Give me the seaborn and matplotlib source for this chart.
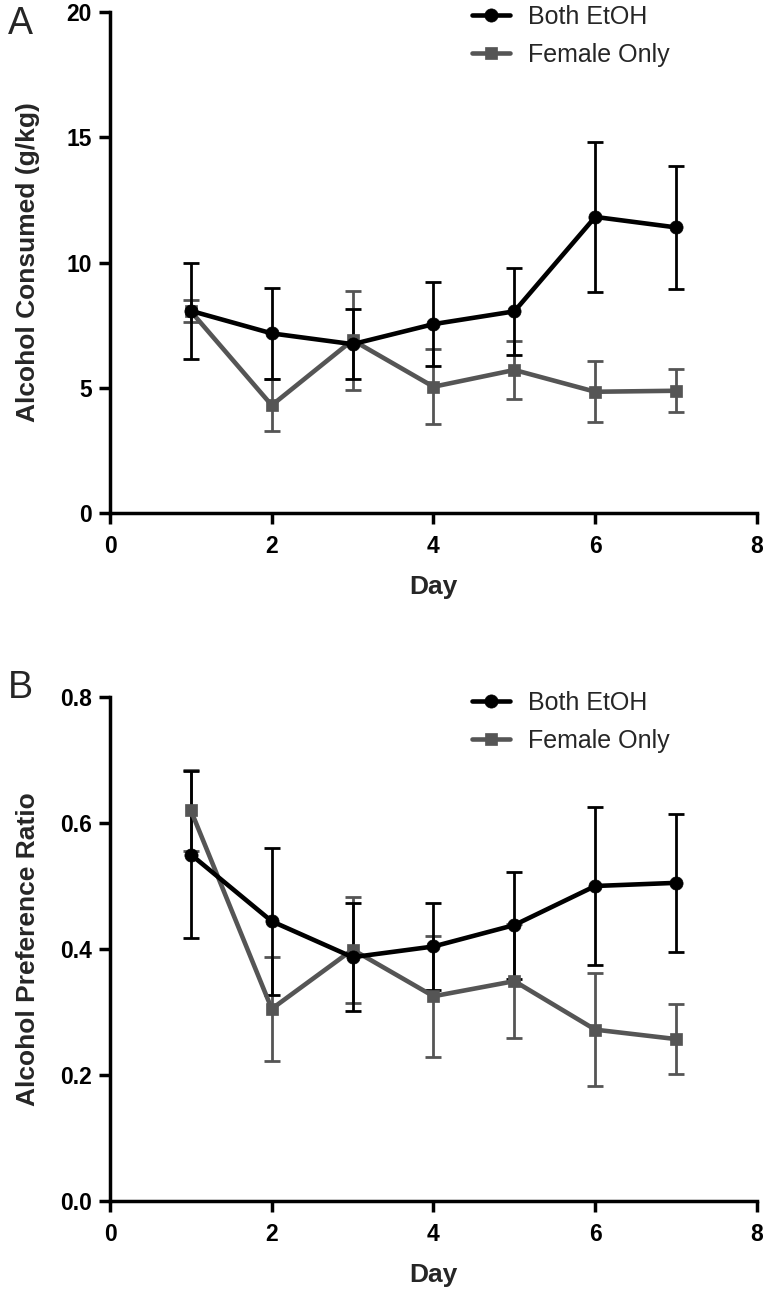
import matplotlib
matplotlib.use("Agg")
import matplotlib.pyplot as plt
import seaborn as sns
import pandas as pd
import numpy as np

# ---- data ----
days = [1, 2, 3, 4, 5, 6, 7]
series_names = ["Both EtOH", "Female Only"]

a_both_mean = [8.07, 7.17, 6.74, 7.54, 8.05, 11.82, 11.40]
a_both_sem = [1.93, 1.82, 1.41, 1.69, 1.74, 2.98, 2.47]
a_fem_mean = [8.05, 4.30, 6.90, 5.04, 5.71, 4.84, 4.88]
a_fem_sem = [0.44, 1.03, 1.97, 1.50, 1.16, 1.22, 0.86]

b_both_mean = [0.550, 0.444, 0.387, 0.404, 0.438, 0.500, 0.505]
b_both_sem = [0.133, 0.117, 0.086, 0.069, 0.085, 0.126, 0.109]
b_fem_mean = [0.620, 0.305, 0.399, 0.325, 0.349, 0.272, 0.257]
b_fem_sem = [0.064, 0.083, 0.084, 0.096, 0.090, 0.090, 0.056]

a_yticks = [0, 5, 10, 15, 20]
a_yticklabels = ["0", "5", "10", "15", "20"]
b_yticks = [0.0, 0.2, 0.4, 0.6, 0.8]
b_yticklabels = ["0.0", "0.2", "0.4", "0.6", "0.8"]
xticks = [0, 2, 4, 6, 8]
xticklabels = ["0", "2", "4", "6", "8"]

# ---- style ----
sns.set_style("ticks")
plt.rcParams["font.family"] = ["Liberation Sans", "DejaVu Sans"]

W, H = 764, 1290
DPI = 100
fig = plt.figure(figsize=(W / DPI, H / DPI), dpi=DPI)

def px_axes(left, top, right, bottom):
    return fig.add_axes([left / W, 1 - bottom / H, (right - left) / W, (bottom - top) / H])

axA = px_axes(110, 12, 757, 513)
axB = px_axes(110, 697, 757, 1201)

colors = {"Both EtOH": "#000000", "Female Only": "#555555"}
markers = {"Both EtOH": "o", "Female Only": "s"}

def draw(ax, means, sems, ylim, yticks, yticklabels, ylabel, legend_top, ax_h):
    handles = {}
    for name in ["Female Only", "Both EtOH"]:
        m = means[name]
        s = sems[name]
        df = pd.DataFrame({"Day": days, "mean": m, "sem": s})
        c = colors[name]
        ax.errorbar(df["Day"], df["mean"], yerr=df["sem"], fmt="none",
                    ecolor=c, elinewidth=2.0, capsize=6, capthick=2.0, zorder=2)
        sns.lineplot(data=df, x="Day", y="mean", ax=ax, color=c,
                     marker=markers[name],
                     markersize=9.5 if name == "Both EtOH" else 9,
                     markeredgecolor=c, markerfacecolor=c, markeredgewidth=0.5,
                     linewidth=3.3, errorbar=None, label=name, zorder=3,
                     legend=False)
        handles[name] = ax.lines[-1]
    ax.set_xlim(0, 8)
    ax.set_ylim(*ylim)
    ax.set_xticks(xticks)
    ax.set_xticklabels(xticklabels)
    ax.set_yticks(yticks)
    ax.set_yticklabels(yticklabels)
    for sp in ["top", "right"]:
        ax.spines[sp].set_visible(False)
    for sp in ["left", "bottom"]:
        ax.spines[sp].set_linewidth(2.5)
        ax.spines[sp].set_color("black")
    ax.tick_params(axis="both", direction="out", length=8, width=2.5,
                   labelsize=16.5, colors="black")
    ax.tick_params(axis="x", pad=8)
    ax.tick_params(axis="y", pad=5)
    for lab in ax.get_xticklabels() + ax.get_yticklabels():
        lab.set_fontweight("bold")
    ax.set_xlabel("Day", fontsize=19, fontweight="bold")
    ax.set_ylabel(ylabel, fontsize=19, fontweight="bold")
    ax.xaxis.set_label_coords(0.5, -62 / ax_h)
    ax.yaxis.set_label_coords(-70 / 647, 0.5)
    ax.grid(False)
    ax.legend([handles[n] for n in series_names], series_names,
              loc="upper left", bbox_to_anchor=(472 / W, 1 - legend_top / H),
              bbox_transform=fig.transFigure, frameon=False, fontsize=18,
              borderpad=0, borderaxespad=0, handlelength=1.5,
              handletextpad=0.75, labelspacing=0.55)

draw(axA,
     {"Both EtOH": a_both_mean, "Female Only": a_fem_mean},
     {"Both EtOH": a_both_sem, "Female Only": a_fem_sem},
     (0, 20), a_yticks, a_yticklabels, "Alcohol Consumed (g/kg)", 5, 501)
draw(axB,
     {"Both EtOH": b_both_mean, "Female Only": b_fem_mean},
     {"Both EtOH": b_both_sem, "Female Only": b_fem_sem},
     (0, 0.8), b_yticks, b_yticklabels, "Alcohol Preference Ratio", 691, 504)

fig.text(8 / W, 1 - 6 / H, "A", fontsize=27, ha="left", va="top")
fig.text(8 / W, 1 - 670 / H, "B", fontsize=27, ha="left", va="top")

fig.savefig("out.png", dpi=DPI)
